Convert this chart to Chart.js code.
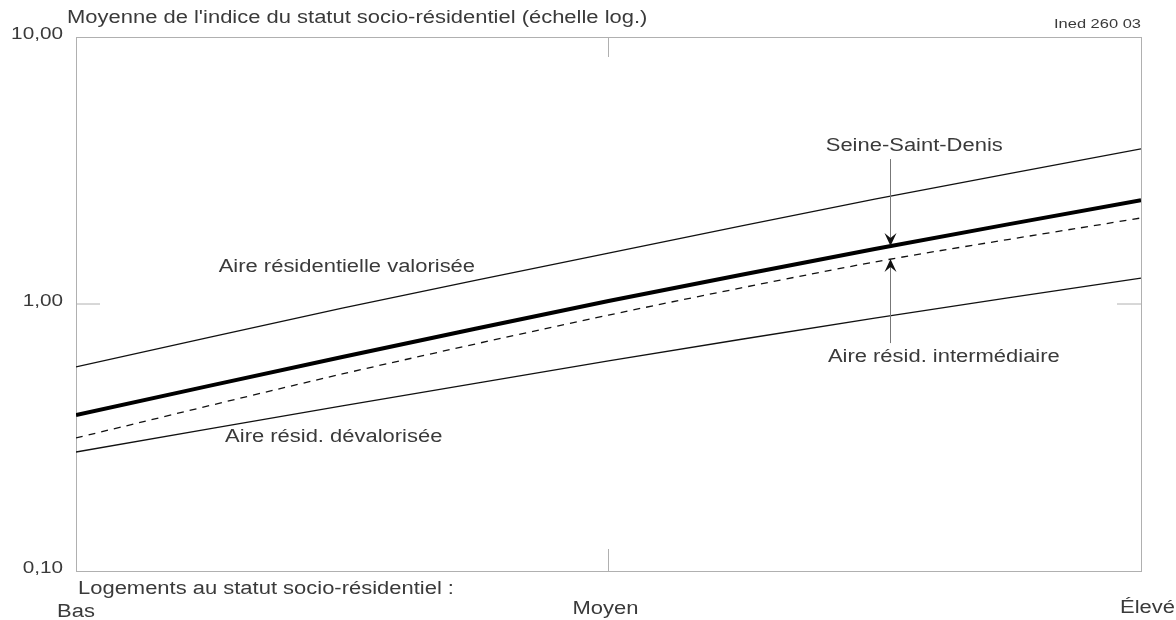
<!DOCTYPE html>
<html>
<head>
<meta charset="utf-8">
<script src="https://cdn.jsdelivr.net/npm/chart.js@4.4.1/dist/chart.umd.min.js"></script>
<style>
    html, body { margin: 0; padding: 0; background: #fff; }
</style>
</head>
<body>
<canvas id="chart" width="1176" height="620"></canvas>
<script>
// positions along the x axis (0 = Bas, 1 = Élevé)
const positions = [0, 0.25, 0.5, 0.75, 1];
const xLabels = ['Bas', 'Moyen', 'Élevé'];
const xLabelPos = [0, 0.5, 1];
const yTicks = [0.1, 1, 10];

const valorisee = [0.581, 0.966, 1.55, 2.47, 3.81];
const seineSaintDenis = [0.384, 0.633, 1.026, 1.607, 2.45];
const intermediaire = [0.315, 0.547, 0.909, 1.437, 2.10];
const devalorisee = [0.279, 0.415, 0.612, 0.886, 1.25];

const TEXT = '#3a3a3a';
const FRAME = '#b0b0b0';
const FONT = '"Liberation Sans", Arial, sans-serif';
const SX = 1.22; // the scanned lettering is wider than Arial

// labels placed in data coordinates
const notes = [
    { text: 'Aire résidentielle valorisée', x: 0.134, y: 1.376 },
    { text: 'Aire résid. dévalorisée', x: 0.140, y: 0.318 },
    { text: 'Seine-Saint-Denis', x: 0.704, y: 3.907 },
    { text: 'Aire résid. intermédiaire', x: 0.706, y: 0.633 }
];
const arrow = { x: 0.764, top: 3.49, downTip: 1.649, upTip: 1.474, bottom: 0.714 };

const toPoints = (vals) => vals.map((v, i) => ({ x: positions[i], y: v }));
const fmt = v => v.toFixed(2).replace('.', ',');

function txt(ctx, s, x, y, align, size) {
    ctx.save();
    ctx.font = `${size}px ${FONT}`;
    ctx.fillStyle = TEXT;
    ctx.textAlign = align;
    ctx.textBaseline = 'middle';
    ctx.translate(x, y);
    ctx.scale(SX, 1);
    ctx.fillText(s, 0, 0);
    ctx.restore();
}

function head(ctx, x, tip, dir) {
    // dir = 1 points down, -1 points up
    ctx.beginPath();
    ctx.moveTo(x, tip);
    ctx.lineTo(x - 6, tip - 13 * dir);
    ctx.lineTo(x, tip - 8 * dir);
    ctx.lineTo(x + 6, tip - 13 * dir);
    ctx.closePath();
    ctx.fill();
}

const framePlugin = {
    id: 'frame',
    beforeDatasetsDraw(chart) {
        const { ctx, chartArea: a, scales } = chart;
        const y1 = scales.y.getPixelForValue(1);
        const xm = scales.x.getPixelForValue(0.5);
        ctx.save();
        ctx.strokeStyle = FRAME;
        ctx.lineWidth = 1;
        ctx.strokeRect(a.left + 0.5, a.top + 0.5, a.right - a.left, a.bottom - a.top);
        ctx.beginPath();
        ctx.moveTo(a.left, y1); ctx.lineTo(a.left + 24, y1);
        ctx.moveTo(a.right - 24, y1); ctx.lineTo(a.right, y1);
        ctx.moveTo(xm, a.top); ctx.lineTo(xm, a.top + 20);
        ctx.moveTo(xm, a.bottom - 22); ctx.lineTo(xm, a.bottom);
        ctx.stroke();
        ctx.restore();

        // y tick labels, from the log scale's own ticks
        scales.y.ticks.forEach(t => {
            txt(ctx, fmt(t.value), a.left - 13, scales.y.getPixelForValue(t.value) - 3, 'right', 17);
        });
    },
    afterDatasetsDraw(chart) {
        const { ctx, chartArea: a, scales } = chart;
        const xs = scales.x, ys = scales.y;

        notes.forEach(n => txt(ctx, n.text, xs.getPixelForValue(n.x), ys.getPixelForValue(n.y), 'left', 18));

        // Seine-Saint-Denis gap marker
        const ax = Math.round(xs.getPixelForValue(arrow.x)) + 0.5;
        const dTip = ys.getPixelForValue(arrow.downTip);
        const uTip = ys.getPixelForValue(arrow.upTip);
        ctx.save();
        ctx.strokeStyle = '#777';
        ctx.fillStyle = '#111';
        ctx.lineWidth = 1;
        ctx.beginPath();
        ctx.moveTo(ax, ys.getPixelForValue(arrow.top)); ctx.lineTo(ax, dTip - 6);
        ctx.moveTo(ax, uTip + 6); ctx.lineTo(ax, ys.getPixelForValue(arrow.bottom));
        ctx.stroke();
        head(ctx, ax, dTip, 1);
        head(ctx, ax, uTip, -1);
        ctx.restore();

        // titles and x labels
        txt(ctx, "Moyenne de l'indice du statut socio-résidentiel (échelle log.)", a.left - 9, 18, 'left', 18);
        txt(ctx, 'Ined 260 03', a.right, 24, 'right', 13.5);
        txt(ctx, 'Logements au statut socio-résidentiel :', a.left + 2, 589, 'left', 18);
        xLabels.forEach((lab, i) => {
            const px = xs.getPixelForValue(xLabelPos[i]);
            if (i === xLabels.length - 1) {
                txt(ctx, lab, chart.width - 1, 608, 'right', 18);
            } else {
                txt(ctx, lab, px - (i === 0 ? 0 : 3), i === 0 ? 612 : 609, 'center', 18);
            }
        });
    }
};

new Chart(document.getElementById('chart'), {
    type: 'line',
    data: {
        datasets: [
            { label: 'Aire résidentielle valorisée', data: toPoints(valorisee), borderColor: '#111', borderWidth: 1.3 },
            { label: 'Seine-Saint-Denis', data: toPoints(seineSaintDenis), borderColor: '#000', borderWidth: 4 },
            { label: 'Aire résid. intermédiaire', data: toPoints(intermediaire), borderColor: '#111', borderWidth: 1.3, borderDash: [7, 6] },
            { label: 'Aire résid. dévalorisée', data: toPoints(devalorisee), borderColor: '#111', borderWidth: 1.3 }
        ]
    },
    options: {
        responsive: false,
        animation: false,
        layout: { padding: { top: 37, right: 35, bottom: 49, left: 0 } },
        elements: { point: { radius: 0 }, line: { tension: 0.25, fill: false } },
        plugins: { legend: { display: false }, tooltip: { enabled: false } },
        scales: {
            x: { type: 'linear', min: 0, max: 1, display: false },
            y: {
                type: 'logarithmic',
                min: 0.1,
                max: 10,
                afterFit: s => { s.width = 76; },
                afterBuildTicks: s => { s.ticks = yTicks.map(v => ({ value: v })); },
                grid: { display: false },
                border: { display: false },
                ticks: { display: false }
            }
        }
    },
    plugins: [framePlugin]
});
</script>
</body>
</html>
